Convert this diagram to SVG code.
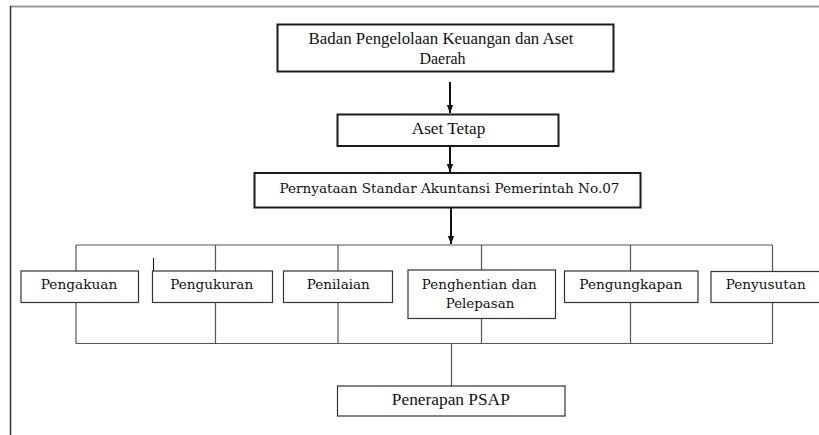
<svg xmlns="http://www.w3.org/2000/svg" width="819" height="435" viewBox="0 0 819 435">
<style>
.bg{fill:#fff}
.main{fill:#fff;stroke:#1a1a1a;stroke-width:2}
.sub{fill:#fff;stroke:#333;stroke-width:1.2}
.ln{stroke:#555;stroke-width:1.2;fill:none}
.arr{stroke:#111;stroke-width:2;fill:none}
.t1{font-family:"Liberation Serif","Times New Roman",serif;font-size:16px;fill:#111;text-anchor:middle}
.t2{font-family:"DejaVu Serif","Liberation Serif",serif;font-size:13px;fill:#111;text-anchor:middle}
</style>
<defs>
<marker id="ah2" viewBox="0 0 10 10" refX="10" refY="5" markerWidth="8" markerHeight="8" orient="auto" markerUnits="userSpaceOnUse">
<path d="M0,1 L10,5 L0,9 z" fill="#111"/>
</marker>
</defs>
<rect class="bg" x="0" y="0" width="819" height="435"/>
<g id="frame">
<line x1="10" y1="6.5" x2="819" y2="6.5" stroke="#999" stroke-width="2"/>
<line x1="10.5" y1="6" x2="10.5" y2="435" stroke="#333" stroke-width="1.5"/>
</g>
<g id="connectors">
<line class="arr" x1="450" y1="82" x2="450" y2="113" marker-end="url(#ah2)"/>
<line class="arr" x1="450" y1="146" x2="450" y2="172" marker-end="url(#ah2)"/>
<line class="arr" x1="451" y1="208" x2="451" y2="244" marker-end="url(#ah2)"/>
<line class="ln" x1="76" y1="245" x2="772.5" y2="245"/>
<line class="ln" x1="76" y1="343.5" x2="772.5" y2="343.5"/>
<line class="ln" x1="76" y1="245" x2="76" y2="271"/>
<line class="ln" x1="76" y1="302" x2="76" y2="343.5"/>
<line class="ln" x1="215.5" y1="245" x2="215.5" y2="271"/>
<line class="ln" x1="215.5" y1="302" x2="215.5" y2="343.5"/>
<line class="ln" x1="338" y1="245" x2="338" y2="271"/>
<line class="ln" x1="338" y1="302" x2="338" y2="343.5"/>
<line class="ln" x1="481.5" y1="245" x2="481.5" y2="270"/>
<line class="ln" x1="481.5" y1="318" x2="481.5" y2="343.5"/>
<line class="ln" x1="630.5" y1="245" x2="630.5" y2="271"/>
<line class="ln" x1="630.5" y1="302" x2="630.5" y2="343.5"/>
<line class="ln" x1="772.5" y1="245" x2="772.5" y2="271.5"/>
<line class="ln" x1="772.5" y1="302" x2="772.5" y2="343.5"/>
<line class="ln" x1="451.5" y1="343.5" x2="451.5" y2="386"/>
<line x1="153.5" y1="258" x2="153.5" y2="272" stroke="#111" stroke-width="1"/>
</g>
<g id="n-badan">
<rect class="main" x="277.5" y="24.5" width="336" height="47"/>
<text class="t1" x="441" y="44" textLength="265" lengthAdjust="spacingAndGlyphs">Badan Pengelolaan Keuangan dan Aset</text>
<text class="t1" x="442.5" y="64">Daerah</text>
</g>
<g id="n-aset">
<rect class="main" x="337.5" y="114.5" width="221" height="31.5"/>
<text class="t1" x="448.5" y="133.5" textLength="73.5" lengthAdjust="spacingAndGlyphs">Aset Tetap</text>
</g>
<g id="n-psap">
<rect class="main" x="254.5" y="173" width="386" height="34.5"/>
<text class="t2" x="449.5" y="192.5" textLength="340" lengthAdjust="spacingAndGlyphs">Pernyataan Standar Akuntansi Pemerintah No.07</text>
</g>
<g id="n-pengakuan">
<rect class="sub" x="21" y="271" width="117.5" height="31.5"/>
<text class="t2" x="79" y="289" textLength="76.5" lengthAdjust="spacingAndGlyphs">Pengakuan</text>
</g>
<g id="n-pengukuran">
<rect class="sub" x="152.5" y="271" width="120" height="31.5"/>
<text class="t2" x="211.7" y="289" textLength="83" lengthAdjust="spacingAndGlyphs">Pengukuran</text>
</g>
<g id="n-penilaian">
<rect class="sub" x="283.5" y="271" width="109" height="31.5"/>
<text class="t2" x="338.3" y="289" textLength="63" lengthAdjust="spacingAndGlyphs">Penilaian</text>
</g>
<g id="n-penghentian">
<rect class="sub" x="408" y="270" width="147.5" height="48.5"/>
<text class="t2" x="479.3" y="289" textLength="115" lengthAdjust="spacingAndGlyphs">Penghentian dan</text>
<text class="t2" x="480" y="308" textLength="68.5" lengthAdjust="spacingAndGlyphs">Pelepasan</text>
</g>
<g id="n-pengungkapan">
<rect class="sub" x="564.5" y="271" width="133.5" height="31.5"/>
<text class="t2" x="630.8" y="289" textLength="103" lengthAdjust="spacingAndGlyphs">Pengungkapan</text>
</g>
<g id="n-penyusutan">
<rect class="sub" x="711" y="271.5" width="120" height="31"/>
<text class="t2" x="765.7" y="289" textLength="80" lengthAdjust="spacingAndGlyphs">Penyusutan</text>
</g>
<g id="n-penerapan">
<rect class="sub" x="337.5" y="386" width="227.5" height="30"/>
<text class="t1" x="450.8" y="404.5" textLength="118" lengthAdjust="spacingAndGlyphs">Penerapan PSAP</text>
</g>
</svg>
